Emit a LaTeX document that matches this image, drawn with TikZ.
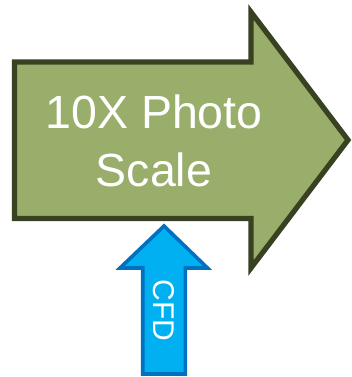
\documentclass[tikz,border=0pt]{standalone}
\usepackage{fontspec}
\setmainfont{Liberation Sans}
\definecolor{olivefill}{RGB}{152,174,106}
\definecolor{olivedraw}{RGB}{56,66,35}
\definecolor{cfdfill}{RGB}{0,176,240}
\definecolor{cfddraw}{RGB}{0,112,192}
\tikzset{
  bigarrow/.style={fill=olivefill, draw=olivedraw, line width=5.2pt, miter limit=10},
  smallarrow/.style={fill=cfdfill, draw=cfddraw, line width=3.6pt, miter limit=10},
  bigtext/.style={text=white, align=center, inner sep=0pt, font=\fontsize{46.5}{58}\selectfont},
  smalltext/.style={text=white, inner sep=0pt, font=\fontsize{30}{36}\selectfont, rotate=-90}
}
\begin{document}
\begin{tikzpicture}[x=1pt,y=-1pt]
  \useasboundingbox (0,0) rectangle (352,377);
  % main block arrow pointing right
  \draw[bigarrow] (14.5,62) -- (251,62) -- (251,12) -- (348,140) -- (251,268)
    -- (251,218.5) -- (14.5,218.5) -- cycle;
  % base anchor sits on the last line's baseline
  \node[bigtext, anchor=base] (title) at (154,186) {10X Photo\\Scale};
  % upward input arrow
  \draw[smallarrow] (142.7,374) -- (142.7,268) -- (120,268) -- (164,226)
    -- (207.5,268) -- (185.3,268) -- (185.3,374) -- cycle;
  \node[smalltext] (cfd) at (163.5,310.5) {CFD};
\end{tikzpicture}
\end{document}
